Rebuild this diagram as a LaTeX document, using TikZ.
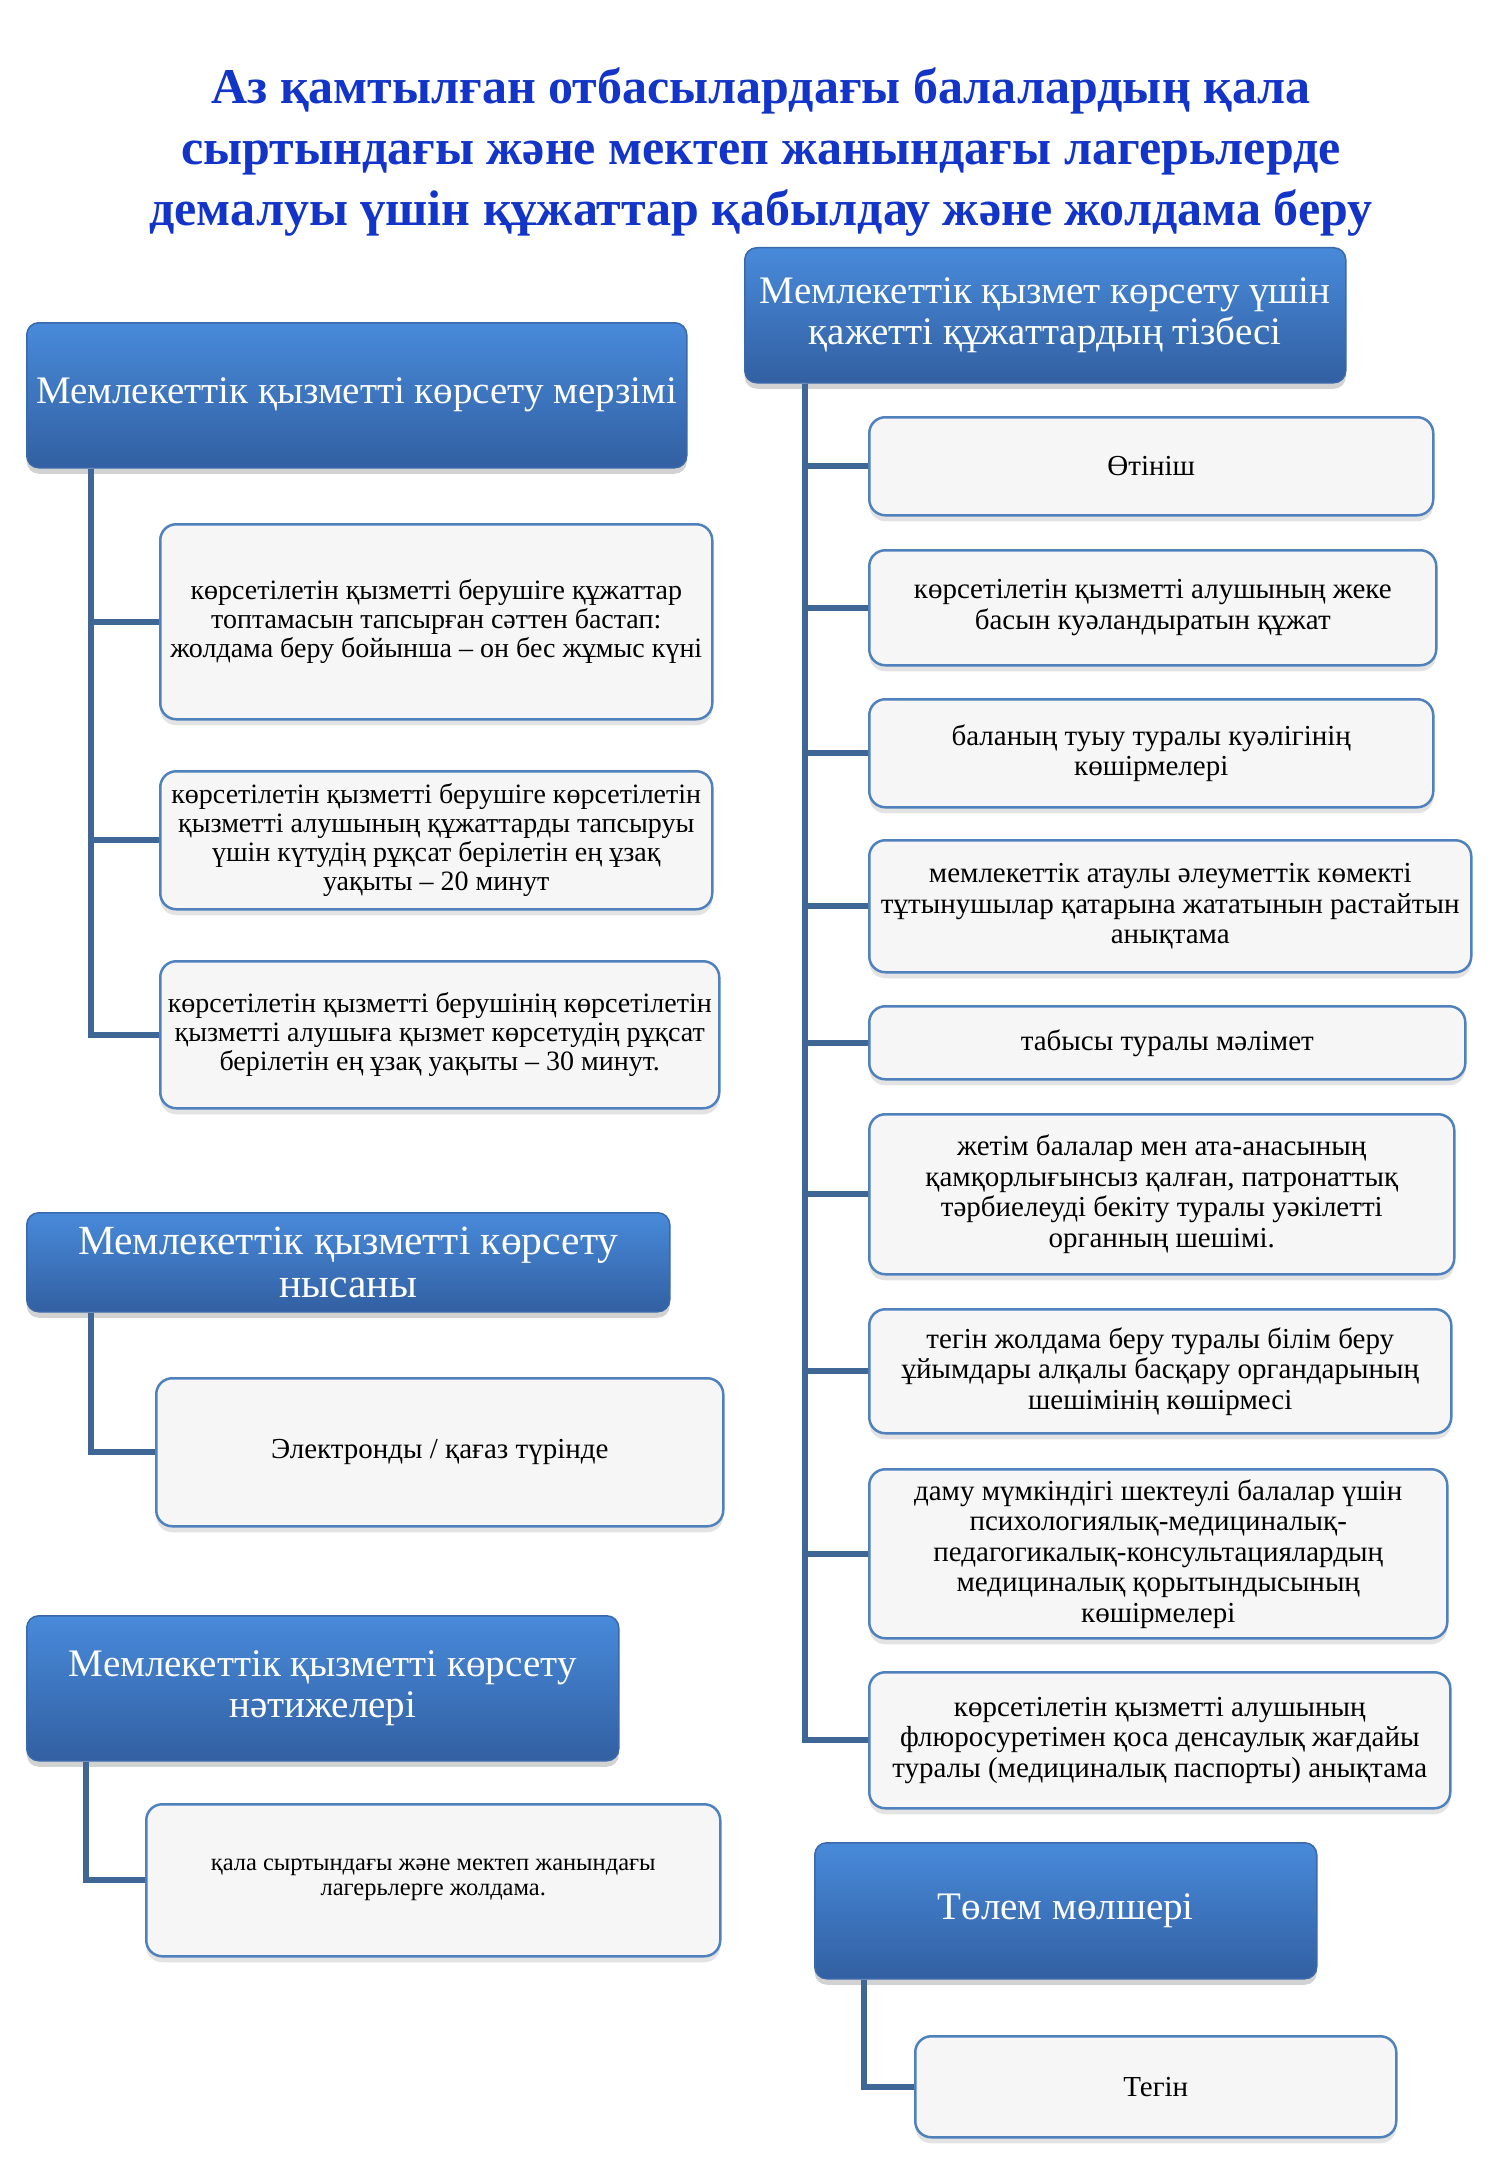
\documentclass[tikz,border=0pt]{standalone}
\usepackage{fontspec}
\setmainfont{Liberation Serif}
\usetikzlibrary{shadows}
\definecolor{titleblue}{RGB}{18,52,200}
\definecolor{hdrtop}{RGB}{72,138,218}
\definecolor{hdrbot}{RGB}{50,96,162}
\definecolor{hdrline}{RGB}{58,104,170}
\definecolor{itemfill}{RGB}{246,246,246}
\definecolor{itemline}{RGB}{79,129,189}
\definecolor{connc}{RGB}{63,103,150}
\tikzset{
  hdr/.style={rounded corners=12pt, top color=hdrtop, bottom color=hdrbot, draw=hdrline,
    line width=1.5pt, text=white, align=center, inner sep=0pt, anchor=north west,
    font=\fontsize{39}{41}\selectfont,
    drop shadow={opacity=0.35, shadow xshift=0pt, shadow yshift=-6pt}},
  itembox/.style={rounded corners=16pt, fill=itemfill, draw=itemline, line width=2.5pt,
    align=center, inner sep=0pt, anchor=north west,
    font=\fontsize{28}{29}\selectfont,
    drop shadow={opacity=0.22, shadow xshift=0pt, shadow yshift=-6pt}},
  ritem/.style={itembox, font=\fontsize{29}{30.5}\selectfont},
  conn/.style={draw=connc, line width=6pt},
}
\begin{document}
\begin{tikzpicture}[x=1pt,y=-1pt]
\fill[white] (0,0) rectangle (1500,2167);
\useasboundingbox (0,0) rectangle (1500,2167);

\node[font=\bfseries\fontsize{50}{61}\selectfont, text=titleblue, align=center] (title) at (761,152)
  {Аз қамтылған отбасылардағы балалардың қала\\сыртындағы және мектеп жанындағы лагерьлерде\\демалуы үшін құжаттар қабылдау және жолдама беру};

% left column
\node[hdr, minimum width=660pt, minimum height=145pt] (h1) at (26,322) {Мемлекеттік қызметті көрсету мерзімі};
\node[itembox, minimum width=552pt, minimum height=195pt] (l1) at (159,523)
  {көрсетілетін қызметті берушіге құжаттар\\топтамасын тапсырған сәттен бастап:\\жолдама беру бойынша – он бес жұмыс күні};
\node[itembox, minimum width=552pt, minimum height=138pt] (l2) at (159,770)
  {көрсетілетін қызметті берушіге көрсетілетін\\қызметті алушының құжаттарды тапсыруы\\үшін күтудің рұқсат берілетін ең ұзақ\\уақыты – 20 минут};
\node[itembox, minimum width=559pt, minimum height=147pt] (l3) at (159,960)
  {көрсетілетін қызметті берушінің көрсетілетін\\қызметті алушыға қызмет көрсетудің рұқсат\\берілетін ең ұзақ уақыты – 30 минут.};

\node[hdr, minimum width=643pt, minimum height=99pt, font=\fontsize{41.5}{43}\selectfont] (h2) at (26,1212) {Мемлекеттік қызметті көрсету\\нысаны};
\node[itembox, minimum width=567pt, minimum height=148pt, font=\fontsize{29}{30}\selectfont] (l4) at (155,1377) {Электронды / қағаз түрінде};

\node[hdr, minimum width=592pt, minimum height=145pt] (h3) at (26,1615) {Мемлекеттік қызметті көрсету\\нәтижелері};
\node[itembox, minimum width=574pt, minimum height=152pt, font=\fontsize{24.5}{25}\selectfont] (l5) at (145,1803)
  {қала сыртындағы және мектеп жанындағы\\лагерьлерге жолдама.};

% right column
\node[hdr, minimum width=601pt, minimum height=135pt] (hr1) at (744,247) {Мемлекеттік қызмет көрсету үшін\\қажетті құжаттардың тізбесі};
\node[ritem, minimum width=564pt, minimum height=98pt] (r1) at (868,416) {Өтініш};
\node[ritem, minimum width=567pt, minimum height=115pt] (r2) at (868,549) {көрсетілетін қызметті алушының жеке\\басын куәландыратын құжат};
\node[ritem, minimum width=564pt, minimum height=108pt] (r3) at (868,698) {баланың туыу туралы куәлігінің\\көшірмелері};
\node[ritem, minimum width=602pt, minimum height=132pt] (r4) at (868,839) {мемлекеттік атаулы әлеуметтік көмекті\\тұтынушылар қатарына жататынын растайтын\\анықтама};
\node[ritem, minimum width=596pt, minimum height=73pt] (r5) at (868,1005) {табысы туралы мәлімет};
\node[ritem, minimum width=585pt, minimum height=160pt] (r6) at (868,1113) {жетім балалар мен ата-анасының\\қамқорлығынсыз қалған, патронаттық\\тәрбиелеуді бекіту туралы уәкілетті\\органның шешімі.};
\node[ritem, minimum width=582pt, minimum height=124pt] (r7) at (868,1308) {тегін жолдама беру туралы білім беру\\ұйымдары алқалы басқару органдарының\\шешімінің көшірмесі};
\node[ritem, minimum width=578pt, minimum height=169pt] (r8) at (868,1468) {даму мүмкіндігі шектеулі балалар үшін\\психологиялық-медициналық-\\педагогикалық-консультациялардың\\медициналық қорытындысының\\көшірмелері};
\node[ritem, minimum width=581pt, minimum height=136pt] (r9) at (868,1671) {көрсетілетін қызметті алушының\\флюросуретімен қоса денсаулық жағдайы\\туралы (медициналық паспорты) анықтама};

\node[hdr, minimum width=502pt, minimum height=136pt] (hr2) at (814,1842) {Төлем мөлшері};
\node[ritem, minimum width=481pt, minimum height=101pt] (r10) at (914,2035) {Тегін};

% connectors
\foreach \c in {l1,l2,l3} \draw[conn] ([xshift=65pt]h1.south west) |- (\c.west);
\draw[conn] ([xshift=65pt]h2.south west) |- (l4.west);
\draw[conn] ([xshift=60pt]h3.south west) |- (l5.west);
\foreach \c in {r1,r2,r3,r4,r5,r6,r7,r8,r9} \draw[conn] ([xshift=61pt]hr1.south west) |- (\c.west);
\draw[conn] ([xshift=50pt]hr2.south west) |- (r10.west);
\end{tikzpicture}
\end{document}
